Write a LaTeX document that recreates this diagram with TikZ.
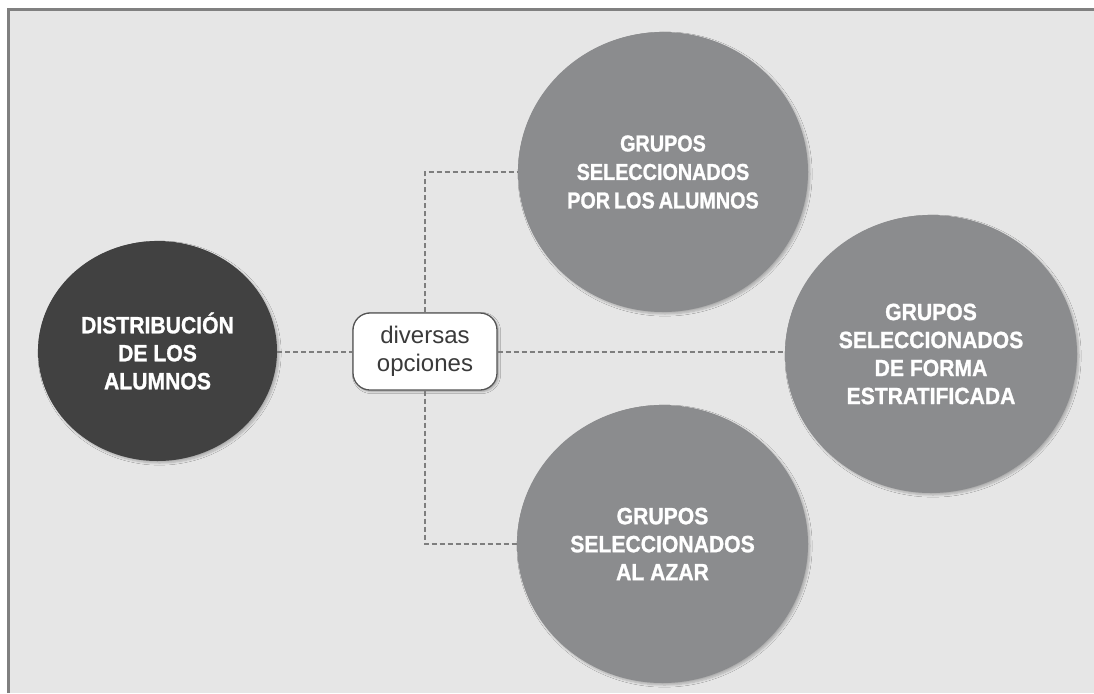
\documentclass[tikz,border=0pt]{standalone}
\usepackage{fontspec}
\setmainfont{Liberation Sans}
\newfontfamily\circfont{Liberation Sans}[FakeStretch=0.9,FakeBold=1.2]
\newfontfamily\circfonttight{Liberation Sans}[FakeStretch=0.86,FakeBold=1.2]
\usetikzlibrary{shapes.geometric,shadows.blur}
\definecolor{bgc}{HTML}{E6E6E6}
\definecolor{framec}{HTML}{808080}
\definecolor{darkc}{HTML}{414141}
\definecolor{circc}{HTML}{8B8C8E}
\definecolor{linec}{HTML}{7E7E7E}
\definecolor{boxline}{HTML}{555555}
\definecolor{boxtext}{HTML}{3A3A3A}
\tikzset{
  bubble/.style={ellipse, fill=circc, inner sep=0pt, text=white, align=center,
    font=\circfont\bfseries\fontsize{23.5}{28}\selectfont,
    blur shadow={shadow xshift=2pt, shadow yshift=-2pt, shadow blur steps=6, shadow opacity=25}},
  mainbubble/.style={bubble, fill=darkc},
  optbox/.style={draw=boxline, line width=1.3pt, fill=white, rounded corners=17pt,
    minimum width=144pt, minimum height=77pt, inner sep=0pt, align=center,
    text=boxtext, font=\fontsize{24}{28}\selectfont,
    blur shadow={shadow xshift=1.5pt, shadow yshift=-1.5pt, shadow blur steps=5, shadow opacity=30}},
  link/.style={draw=linec, line width=2pt, dash pattern=on 5pt off 3pt}
}
\begin{document}
\begin{tikzpicture}[x=1pt,y=-1pt]
\useasboundingbox (0,0) rectangle (1094,693);
\fill[white] (0,0) rectangle (1094,693);
\fill[bgc] (10,10) rectangle (1094,693);
\draw[framec, line width=3pt] (8.5,693) -- (8.5,9.5) -- (1094,9.5);

\node[mainbubble, minimum width=239pt, minimum height=220pt] (dist) at (157.5,351)
  {DISTRIBUCIÓN\\DE LOS\\ALUMNOS};
\node[optbox] (opc) at (425,351.5) {diversas\\opciones};
\node[bubble, minimum width=290pt, minimum height=280pt,
  font=\circfonttight\bfseries\fontsize{23}{28.5}\selectfont] (top) at (663,172)
  {GRUPOS\\SELECCIONADOS\\POR\kern4pt LOS\kern4pt ALUMNOS};
\node[bubble, minimum width=292pt, minimum height=278pt] (right) at (931,354)
  {GRUPOS\\SELECCIONADOS\\DE FORMA\\ESTRATIFICADA};
\node[bubble, minimum width=291pt, minimum height=278pt] (bot) at (662.5,544)
  {GRUPOS\\SELECCIONADOS\\AL AZAR};

\draw[link] (dist.east |- opc.west) -- (opc.west);
\draw[link] (opc.north) |- (top.west);
\draw[link] (opc.south) |- (bot.west);
\draw[link] (opc.east) -- (opc.east -| right.west);
\end{tikzpicture}
\end{document}
